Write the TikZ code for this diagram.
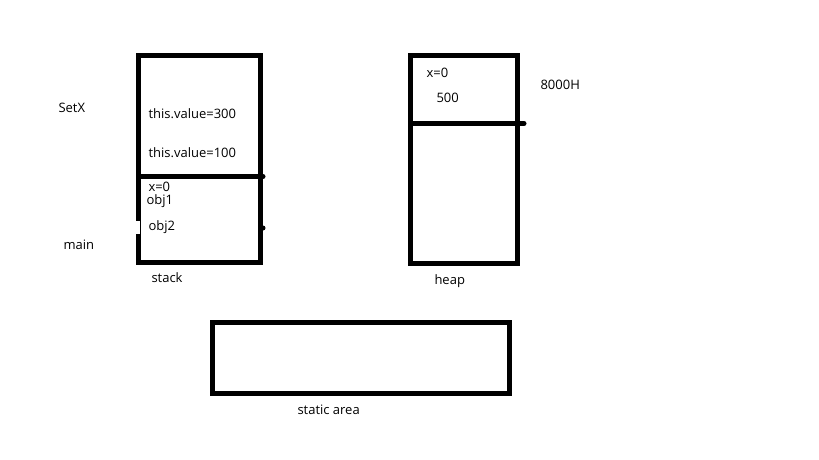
\documentclass[tikz,border=0pt]{standalone}
\usepackage{fontspec}
\setmainfont{Open Sans}
\usepackage{tikz}

\begin{document}
\begin{tikzpicture}[x=1pt,y=-1pt,line width=5pt]
\useasboundingbox (0,0) rectangle (819,460);
\tikzset{lbl/.style={anchor=west,inner sep=0pt,font=\fontsize{13}{15}\selectfont}}
% stack
\draw (138.5,56) rectangle (260.5,262.5);
\draw[line cap=round] (138.5,176.5) -- (263,176.5);
\fill[white] (135,221) rectangle (140,234);
\fill (263,228) circle (2.5pt);
% heap
\draw (410.5,56) rectangle (517.5,263);
\draw[line cap=round] (410.5,123.5) -- (524,123.5);
% static area
\draw (212.5,322.5) rectangle (509.5,393.5);

\node[lbl] (setx) at (56,108) {SetX};
\node[lbl] (main) at (61,245) {main};
\node[lbl] (v300) at (146,114) {this.value=300};
\node[lbl] (v100) at (146,153) {this.value=100};
\node[lbl] (sx) at (146,187) {x=0};
\node[lbl] (obj1) at (144,201) {obj1};
\node[lbl] (obj2) at (146,227) {obj2};
\node[lbl] (stack) at (149,278) {stack};
\node[lbl] (hx) at (424,73) {x=0};
\node[lbl] (h500) at (434,98) {500};
\node[lbl] (addr) at (538,85) {8000H};
\node[lbl] (heap) at (432,281) {heap};
\node[lbl] (static) at (295,410) {static area};

\end{tikzpicture}
\end{document}
